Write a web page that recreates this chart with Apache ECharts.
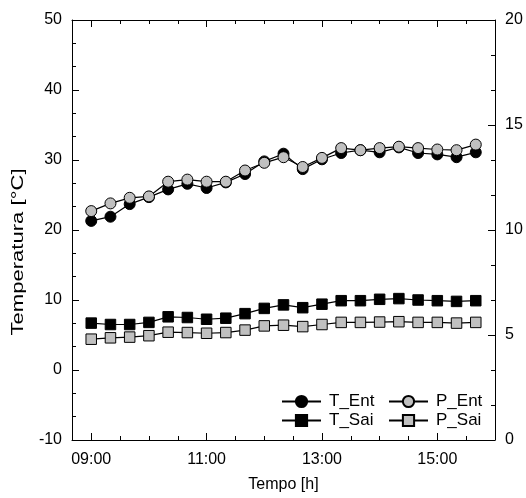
<!DOCTYPE html>
<html>
<head>
<meta charset="utf-8">
<script src="https://cdn.jsdelivr.net/npm/echarts@6/dist/echarts.min.js"></script>
<style>
html,body{margin:0;padding:0;background:#fff;}
#c{width:526px;height:498px;}
</style>
</head>
<body>
<div id="c"></div>
<script>
// ---- data ----
var times = ['09:00','09:20','09:40','10:00','10:20','10:40','11:00','11:20','11:40','12:00','12:20',
             '12:40','13:00','13:20','13:40','14:00','14:20','14:40','15:00','15:20','15:40'];
var T_Ent = [21.3,21.9,23.7,24.7,25.8,26.6,26.0,26.8,28.0,29.8,30.9,28.7,30.1,31.0,31.4,31.1,31.8,31.0,30.8,30.4,31.1];
var P_Ent = [22.7,23.8,24.6,24.8,26.9,27.2,26.9,26.9,28.5,29.6,30.4,29.0,30.3,31.7,31.4,31.7,31.9,31.7,31.5,31.4,32.2];
var T_Sai = [6.7,6.5,6.5,6.8,7.6,7.5,7.25,7.4,8.05,8.8,9.3,8.9,9.4,9.9,9.9,10.1,10.2,10.0,9.9,9.8,9.9];
var P_Sai = [4.4,4.6,4.7,4.9,5.4,5.35,5.25,5.35,5.7,6.3,6.4,6.2,6.5,6.8,6.8,6.85,6.9,6.8,6.8,6.7,6.8];
var xTickLabels = ['09:00','11:00','13:00','15:00'];
var xMinorTicks = ['09:30','10:00','10:30','11:30','12:00','12:30','13:30','14:00','14:30','15:30','16:00'];
var xRange = ['08:40','16:00'];
var yTitle = 'Temperatura [°C]';
var xTitle = 'Tempo [h]';

function toMin(s){var p=s.split(':');return (+p[0])*60+(+p[1]);}
function fmt(m){var h=Math.floor(m/60),mm=Math.round(m-h*60);return (h<10?'0':'')+h+':'+(mm<10?'0':'')+mm;}
function pairs(arr){return arr.map(function(v,i){return [toMin(times[i]),v];});}

var FONT = 'Liberation Sans';
var majorX = xTickLabels.map(toMin);
var minorX = xMinorTicks.map(toMin);
var xmin = toMin(xRange[0]), xmax = toMin(xRange[1]);

function xAxisDef(pos, ticks, len, showLine, showLabel){
  return {
    type:'value', position:pos, min:xmin, max:xmax,
    axisLine:{show:showLine, onZero:false, lineStyle:{color:'#000',width:1}},
    axisTick:{show:true, inside:true, length:len, customValues:ticks, lineStyle:{color:'#000',width:1}},
    axisLabel:{show:showLabel, customValues:ticks, formatter:function(v){return fmt(v);},
      color:'#000', fontFamily:FONT, fontSize:16, margin:12},
    splitLine:{show:false}
  };
}

var xa0 = xAxisDef('bottom', majorX, 7, true, true);
xa0.name = xTitle;
xa0.nameLocation = 'middle';
xa0.nameGap = 37;
xa0.nameTextStyle = {color:'#000', fontFamily:FONT, fontSize:16};

var gray = '#c0c0c0';
function ser(name, data, sym, fill){
  return {
    name:name, type:'line', xAxisIndex:0, yAxisIndex:0, data:pairs(data),
    symbol:sym, symbolSize: sym==='circle'?11:10.5,
    lineStyle:{color:'#000', width:1.2},
    itemStyle:{color:fill, borderColor:'#000', borderWidth:1, opacity:1},
    emphasis:{disabled:true}, animation:false
  };
}

var legendText = {color:'#000', fontFamily:FONT, fontSize:17, padding:[0,0,0,3]};

var chart = echarts.init(document.getElementById('c'), null, {renderer:'canvas'});
chart.setOption({
  backgroundColor:'#fff',
  animation:false,
  grid:{left:72, right:31, top:20, bottom:57, containLabel:false},
  graphic:[
    {type:'text', x:19, y:252, rotation:Math.PI/2, scaleX:1.38,
     style:{text:yTitle, fill:'#000', font:'16px "Liberation Sans"', align:'center', verticalAlign:'middle'}}
  ],
  xAxis:[
    xa0,
    xAxisDef('bottom', minorX, 4, false, false),
    xAxisDef('top', majorX, 7, true, false),
    xAxisDef('top', minorX, 4, false, false)
  ],
  yAxis:[
    {type:'value', position:'left', min:-10, max:50, interval:10,
     axisLine:{show:true, lineStyle:{color:'#000'}},
     axisTick:{show:true, inside:true, length:7, lineStyle:{color:'#000'}},
     minorTick:{show:true, splitNumber:3, length:4, lineStyle:{color:'#000'}},
     axisLabel:{color:'#000', fontFamily:FONT, fontSize:16, margin:10},
     splitLine:{show:false}},
    {type:'value', position:'right', min:0, max:20, interval:5,
     axisLine:{show:true, lineStyle:{color:'#000'}},
     axisTick:{show:true, inside:true, length:7, lineStyle:{color:'#000'}},
     minorTick:{show:true, splitNumber:3, length:4, lineStyle:{color:'#000'}},
     axisLabel:{color:'#000', fontFamily:FONT, fontSize:16, margin:10},
     splitLine:{show:false}}
  ],
  legend:[
    {data:['T_Ent','T_Sai'], orient:'vertical', left:276, top:388, itemWidth:39, itemHeight:14, itemGap:2,
     textStyle:legendText, selectedMode:false},
    {data:['P_Ent','P_Sai'], orient:'vertical', left:383, top:388, itemWidth:39, itemHeight:14, itemGap:2,
     textStyle:legendText, selectedMode:false}
  ],
  series:[
    ser('T_Ent', T_Ent, 'circle', '#000'),
    ser('P_Ent', P_Ent, 'circle', gray),
    ser('T_Sai', T_Sai, 'rect', '#000'),
    ser('P_Sai', P_Sai, 'rect', gray)
  ]
});
</script>
</body>
</html>
